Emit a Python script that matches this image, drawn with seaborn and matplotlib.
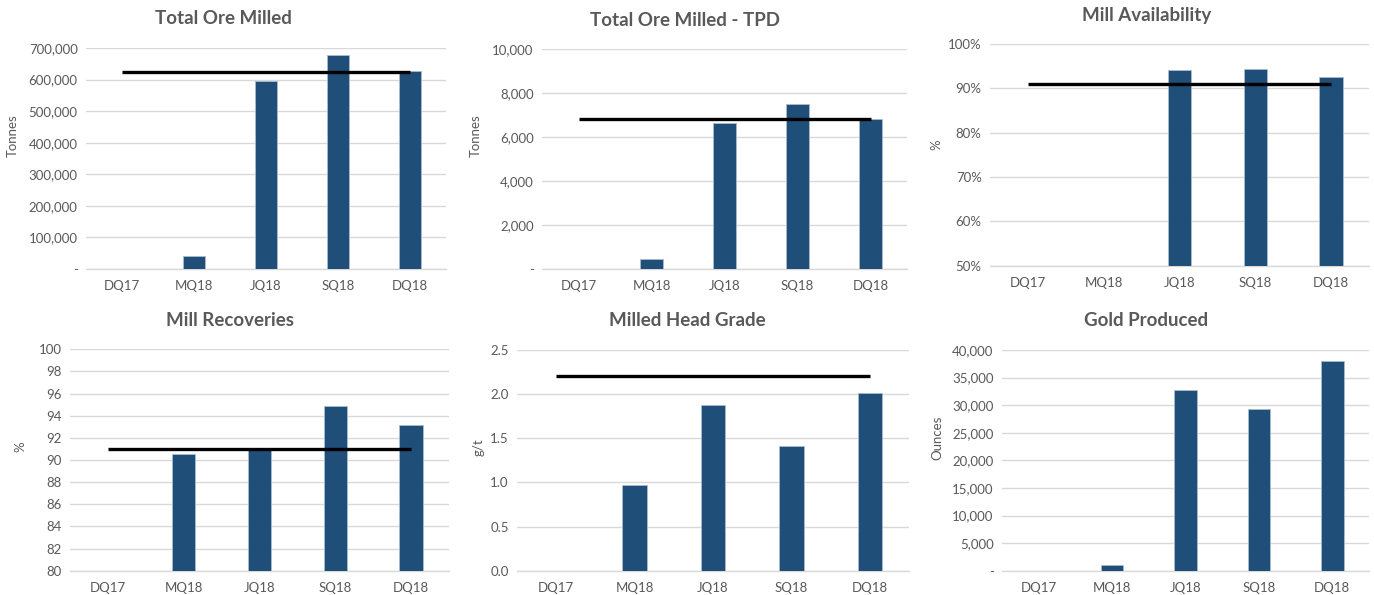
import matplotlib
matplotlib.use("Agg")
import matplotlib.pyplot as plt
import matplotlib.ticker as mticker
import seaborn as sns
import numpy as np

# Data
quarters = ["DQ17", "MQ18", "JQ18", "SQ18", "DQ18"]

ore_milled = [0, 41000, 594000, 679000, 628000]
ore_milled_target = 624000

ore_tpd = [0, 450, 6630, 7490, 6820]
ore_tpd_target = 6800

mill_avail = [0, 0, 0.942, 0.944, 0.925]
mill_avail_target = 0.909

recoveries = [0, 90.55, 90.9, 94.9, 93.15]
recoveries_target = 91.0

head_grade = [0, 0.975, 1.88, 1.41, 2.01]
head_grade_target = 2.2

gold_oz = [0, 1100, 32750, 29300, 37950]

BAR = "#1F4E79"
GRID = "#D9D9D9"
TXT = "#595959"

sns.set_style("white")
plt.rcParams["font.family"] = ["Lato", "DejaVu Sans"]

W, H = 1374, 595
fig = plt.figure(figsize=(W / 100, H / 100), dpi=100)


def px_axes(left, right, top, bottom):
    return fig.add_axes([left / W, 1 - bottom / H, (right - left) / W, (bottom - top) / H])


def thousands(v, pos):
    if abs(v) < 1e-9:
        return "-"
    return f"{v:,.0f}"


def panel(box, values, title, title_xy, ylabel, ylabel_xy, ylim, step, fmt, target=None):
    ax = px_axes(*box)
    sns.barplot(x=quarters, y=values, color=BAR, width=0.31, ax=ax,
                saturation=1, edgecolor="#A9BCD0", linewidth=0.6, zorder=3)
    if target is not None:
        ax.hlines(target, 0, len(quarters) - 1, color="black", linewidth=2.4, zorder=4)
    ax.set_ylim(*ylim)
    ax.set_xlim(-0.5, len(quarters) - 0.5)
    ax.yaxis.set_major_locator(mticker.MultipleLocator(step))
    ax.yaxis.set_major_formatter(mticker.FuncFormatter(fmt))
    ax.grid(axis="y", color=GRID, linewidth=1, zorder=0)
    ax.set_axisbelow(True)
    for s in ["top", "right", "left"]:
        ax.spines[s].set_visible(False)
    ax.spines["bottom"].set_color(GRID)
    ax.spines["bottom"].set_linewidth(1)
    ax.tick_params(axis="both", length=0, labelsize=9.5, labelcolor=TXT, pad=6)
    ax.tick_params(axis="x", pad=8)
    ax.set_xlabel("")
    ax.set_ylabel("")
    fig.text(title_xy[0] / W, 1 - title_xy[1] / H, title, ha="center", va="center",
             fontsize=13.5, fontweight="bold", color=TXT)
    fig.text(ylabel_xy[0] / W, 1 - ylabel_xy[1] / H, ylabel, ha="center", va="center",
             rotation=90, fontsize=9.5, color=TXT)
    return ax


panel((86, 446, 48, 269), ore_milled, "Total Ore Milled", (223, 19),
      "Tonnes", (13, 136), (0, 700000), 100000, thousands, ore_milled_target)

panel((542, 907, 48.7, 269), ore_tpd, "Total Ore Milled - TPD", (685, 20),
      "Tonnes", (476, 136), (0, 10000), 2000, thousands, ore_tpd_target)

panel((990, 1369, 44, 265.7), mill_avail, "Mill Availability", (1147, 15),
      "%", (936, 145), (0.5, 1.0), 0.1, lambda v, p: f"{v * 100:.0f}%", mill_avail_target)

panel((70, 449, 349.3, 570.7), recoveries, "Mill Recoveries", (230, 321),
      "%", (20, 447), (80, 100), 2, lambda v, p: f"{v:.0f}", recoveries_target)

panel((517, 909, 350, 570.7), head_grade, "Milled Head Grade", (687, 321),
      "g/t", (479, 447), (0, 2.5), 0.5, lambda v, p: f"{v:.1f}", head_grade_target)

panel((1002, 1369, 350, 570.7), gold_oz, "Gold Produced", (1146, 321),
      "Ounces", (937, 438), (0, 40000), 5000, thousands)

fig.savefig("out.png", dpi=100, facecolor="white")
